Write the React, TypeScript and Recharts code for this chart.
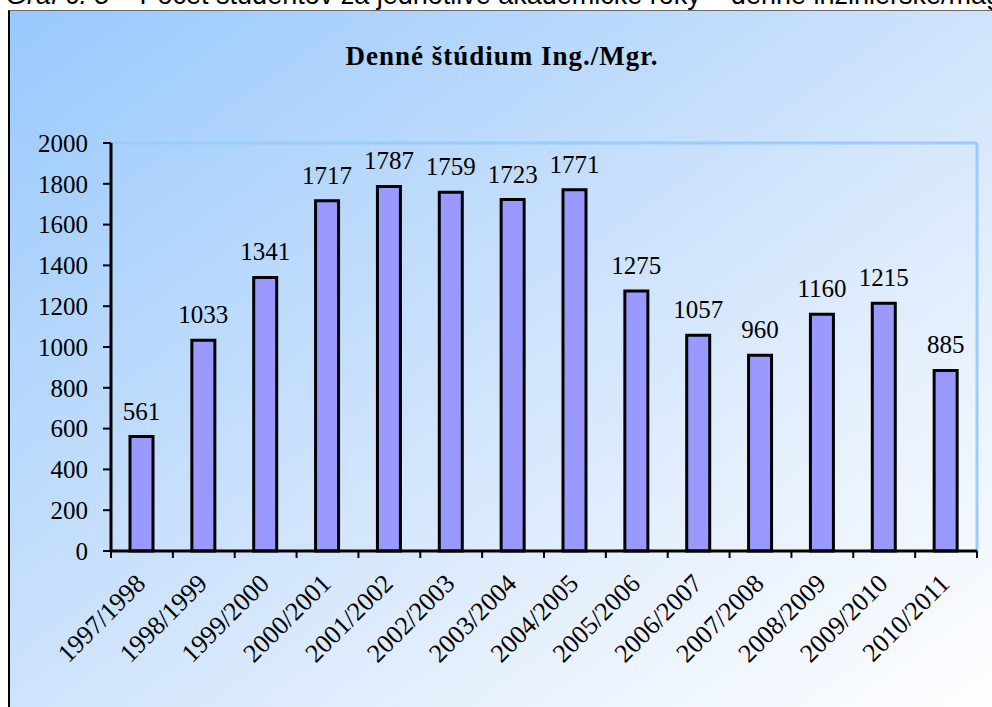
import React from 'react';
import { BarChart, Bar, XAxis, YAxis, LabelList } from 'recharts';

const categories = [
  '1997/1998', '1998/1999', '1999/2000', '2000/2001', '2001/2002', '2002/2003', '2003/2004',
  '2004/2005', '2005/2006', '2006/2007', '2007/2008', '2008/2009', '2009/2010', '2010/2011',
];
const students = [561, 1033, 1341, 1717, 1787, 1759, 1723, 1771, 1275, 1057, 960, 1160, 1215, 885];
const yTicks = [0, 200, 400, 600, 800, 1000, 1200, 1400, 1600, 1800, 2000];
const boundaryTicks = [0, 1, 2, 3, 4, 5, 6, 7, 8, 9, 10, 11, 12, 13, 14];

const chartTitle = 'Denné štúdium Ing./Mgr.';
const captionItalic = 'Graf č. 5';
const captionRest = ' – Počet študentov za jednotlivé akademické roky – denné inžinierske/magisterské štúdium';

const data = categories.map((year, i) => ({ year, students: students[i], slot: i + 0.5 }));

const SERIF = "'Liberation Serif', 'Times New Roman', serif";

const YearTick = (props: any) => {
  const { x, y, payload } = props;
  const ax = x + 5;
  const ay = y + 33;
  return (
    <text
      x={ax}
      y={ay}
      transform={`rotate(-45, ${ax}, ${ay})`}
      textAnchor="end"
      fontFamily={SERIF}
      fontSize={26}
      fill="#000"
    >
      {payload.value}
    </text>
  );
};

const EmptyTick = () => <g />;

export default function App() {
  return (
    <div style={{ position: 'absolute', left: 0, top: 0, width: 992, height: 707, overflow: 'hidden', background: '#fff' }}>
      <div
        style={{
          position: 'absolute', left: 8, top: 10, width: 1000, height: 710,
          borderLeft: '2px solid #000', borderTop: '1px solid #6a6a6a',
          background: 'linear-gradient(to bottom right, #98c9fc 0%, #c4defc 40%, #e6f0fd 70%, #ffffff 100%)',
        }}
      />
      <div
        style={{
          position: 'absolute', left: 6, top: -18, whiteSpace: 'nowrap',
          fontFamily: "'Liberation Sans', Arial, sans-serif", fontSize: 27, lineHeight: '27px', color: '#000',
        }}
      >
        <i>{captionItalic}</i>{captionRest}
      </div>
      <div
        style={{
          position: 'absolute', left: 0, top: 43, width: 1004, textAlign: 'center', whiteSpace: 'nowrap',
          fontFamily: SERIF, fontWeight: 'bold', fontSize: 27, lineHeight: '26px', letterSpacing: 1, color: '#000',
        }}
      >
        {chartTitle}
      </div>
      <div style={{ position: 'absolute', left: 0, top: 0 }}>
        <BarChart width={992} height={707} data={data} margin={{ top: 142, right: 14, left: 51, bottom: 154 }}>
          <XAxis
            xAxisId="top"
            orientation="top"
            type="number"
            dataKey="slot"
            domain={[0, 14]}
            height={1}
            tick={false}
            tickLine={false}
            axisLine={{ stroke: '#99ccff', strokeWidth: 3 }}
          />
          <YAxis
            yAxisId="right"
            orientation="right"
            domain={[0, 2000]}
            width={1}
            tick={false}
            tickLine={false}
            axisLine={{ stroke: '#99ccff', strokeWidth: 3 }}
          />
          <XAxis
            xAxisId="bounds"
            type="number"
            dataKey="slot"
            domain={[0, 14]}
            ticks={boundaryTicks}
            interval={0}
            height={1}
            tick={<EmptyTick />}
            tickSize={7}
            tickLine={{ stroke: '#000', strokeWidth: 2 }}
            axisLine={{ stroke: '#000', strokeWidth: 3 }}
          />
          <XAxis
            xAxisId="cat"
            dataKey="year"
            height={1}
            interval={0}
            axisLine={false}
            tickLine={false}
            tickSize={0}
            tickMargin={0}
            tick={<YearTick />}
          />
          <YAxis
            domain={[0, 2000]}
            ticks={yTicks}
            interval={0}
            width={60}
            tickSize={8}
            tickMargin={15}
            axisLine={{ stroke: '#000', strokeWidth: 3 }}
            tickLine={{ stroke: '#000', strokeWidth: 2 }}
            tick={{ fontFamily: SERIF, fontSize: 25, fill: '#000' }}
          />
          <Bar
            dataKey="students"
            xAxisId="cat"
            fill="#9999ff"
            stroke="#000"
            strokeWidth={3}
            barSize={23}
            isAnimationActive={false}
          >
            <LabelList
              dataKey="students"
              position="top"
              offset={17}
              style={{ fontFamily: SERIF, fontSize: 25, fill: '#000' }}
            />
          </Bar>
        </BarChart>
      </div>
    </div>
  );
}
